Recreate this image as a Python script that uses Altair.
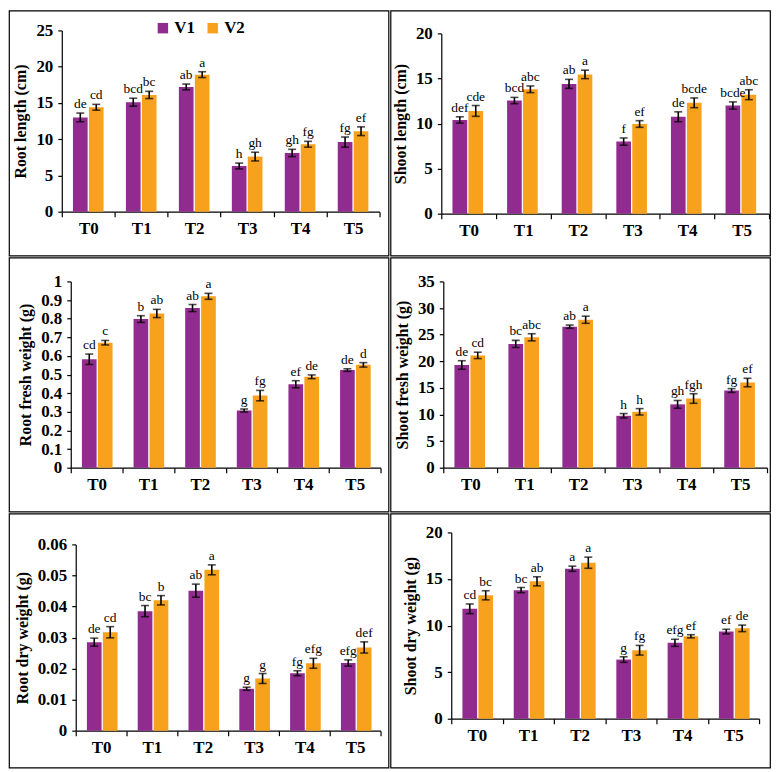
import altair as alt
import pandas as pd

treatments = ["T0", "T1", "T2", "T3", "T4", "T5"]
varieties = ["V1", "V2"]
colors = ["#922B90", "#F7A11C"]

# Root length (cm)
rl_v1 = [13.0, 15.1, 17.2, 6.3, 8.1, 9.6]
rl_v2 = [14.4, 16.1, 18.9, 7.6, 9.3, 11.1]
rl_e1 = [0.6, 0.55, 0.4, 0.4, 0.5, 0.7]
rl_e2 = [0.4, 0.5, 0.4, 0.6, 0.4, 0.6]
rl_l1 = ["de", "bcd", "ab", "h", "gh", "fg"]
rl_l2 = ["cd", "bc", "a", "gh", "fg", "ef"]

# Shoot length (cm)
sl_v1 = [10.4, 12.55, 14.4, 8.0, 10.75, 12.0]
sl_v2 = [11.4, 13.8, 15.45, 9.95, 12.3, 13.2]
sl_e1 = [0.35, 0.35, 0.5, 0.4, 0.55, 0.4]
sl_e2 = [0.6, 0.37, 0.47, 0.37, 0.54, 0.55]
sl_l1 = ["def", "bcd", "ab", "f", "de", "bcde"]
sl_l2 = ["cde", "abc", "a", "ef", "bcde", "abc"]

# Root fresh weight (g)
rfw_v1 = [0.582, 0.798, 0.857, 0.307, 0.448, 0.524]
rfw_v2 = [0.671, 0.828, 0.92, 0.387, 0.488, 0.552]
rfw_e1 = [0.028, 0.018, 0.019, 0.008, 0.019, 0.007]
rfw_e2 = [0.012, 0.022, 0.016, 0.028, 0.01, 0.012]
rfw_l1 = ["cd", "b", "ab", "g", "ef", "de"]
rfw_l2 = ["c", "ab", "a", "fg", "de", "d"]

# Shoot fresh weight (g)
sfw_v1 = [19.3, 23.25, 26.5, 9.75, 11.9, 14.5]
sfw_v2 = [21.1, 24.5, 27.8, 10.5, 13.0, 16.0]
sfw_e1 = [0.8, 0.67, 0.3, 0.42, 0.73, 0.36]
sfw_e2 = [0.6, 0.67, 0.67, 0.6, 0.9, 0.8]
sfw_l1 = ["de", "bc", "ab", "h", "gh", "fg"]
sfw_l2 = ["cd", "abc", "a", "h", "fgh", "ef"]

# Root dry weight (g)
rdw_v1 = [0.0285, 0.0385, 0.0451, 0.0135, 0.0185, 0.0218]
rdw_v2 = [0.0317, 0.042, 0.0518, 0.0168, 0.0217, 0.0268]
rdw_e1 = [0.0013, 0.0018, 0.0021, 0.0005, 0.0008, 0.001]
rdw_e2 = [0.0018, 0.0015, 0.0016, 0.0016, 0.0016, 0.0018]
rdw_l1 = ["de", "bc", "ab", "g", "fg", "efg"]
rdw_l2 = ["cd", "b", "a", "g", "efg", "def"]

# Shoot dry weight (g)
sdw_v1 = [11.8, 13.8, 16.1, 6.35, 8.15, 9.35]
sdw_v2 = [13.25, 14.75, 16.75, 7.35, 8.85, 9.7]
sdw_e1 = [0.52, 0.28, 0.28, 0.3, 0.38, 0.25]
sdw_e2 = [0.49, 0.49, 0.6, 0.52, 0.17, 0.35]
sdw_l1 = ["cd", "bc", "a", "g", "efg", "ef"]
sdw_l2 = ["bc", "ab", "a", "fg", "ef", "de"]

FONT = "Liberation Serif"
CELL_W = 381


def make_panel(title, v1, v2, e1, e2, l1, l2, ymax, step, geom, cell_h):
    rows = []
    for i, t in enumerate(treatments):
        for v, vals, errs, labs in (("V1", v1, e1, l1), ("V2", v2, e2, l2)):
            rows.append(dict(T=t, V=v, val=vals[i], lo=vals[i] - errs[i],
                             hi=vals[i] + errs[i], lab=labs[i]))
    df = pd.DataFrame(rows)
    left, pw, top, ph = geom
    bottom = cell_h - top - ph

    nt = int(round(ymax / step))
    tick_vals = [round(k * step, 6) for k in range(nt + 1)]

    x = alt.X("T:N", sort=treatments,
              scale=alt.Scale(paddingInner=0, paddingOuter=0, range=[left, left + pw]),
              axis=alt.Axis(title=None, labelAngle=0, tickBand="extent", offset=-bottom,
                            labelFont=FONT, labelFontSize=17, labelFontWeight="bold",
                            labelColor="black", tickColor="black", domainColor="black",
                            tickSize=5, labelPadding=4, domainWidth=1.2, tickWidth=1.2))
    xo = alt.XOffset("V:N", sort=varieties,
                     scale=alt.Scale(paddingInner=0.08, paddingOuter=0.7))
    yaxis = alt.Axis(values=tick_vals, format="~f", grid=False, title=title,
                     offset=-left,
                     labelFont=FONT, labelFontSize=17, labelFontWeight="bold",
                     labelColor="black", titleFont=FONT, titleFontSize=16,
                     titleFontWeight="bold", titleColor="black", titlePadding=7,
                     tickColor="black", domainColor="black", tickSize=4,
                     labelPadding=5, domainWidth=1.2, tickWidth=1.2)
    yscale = alt.Scale(domain=[0, ymax], nice=False, zero=True,
                       range=[top + ph, top])

    def Y(field):
        return alt.Y(field, type="quantitative", scale=yscale, axis=yaxis, title=title)

    base = alt.Chart(df)
    legend = alt.Legend(orient="none", legendX=146, legendY=9, direction="horizontal",
                        title=None, symbolType="square", symbolSize=110,
                        symbolStrokeWidth=0, labelFont=FONT, labelFontSize=17,
                        labelFontWeight="bold", labelColor="black", labelOffset=3,
                        columnPadding=9, padding=0)
    bars = base.mark_bar().encode(
        x=x, xOffset=xo, y=Y("val"),
        color=alt.Color("V:N", sort=varieties,
                        scale=alt.Scale(domain=varieties, range=colors),
                        legend=legend),
    )
    rules = base.mark_rule(color="black", strokeWidth=1.6).encode(
        x=x, xOffset=xo, y=Y("lo"), y2="hi:Q")
    cap_hi = base.mark_tick(color="black", size=8, thickness=1.6).encode(
        x=x, xOffset=xo, y=Y("hi"))
    cap_lo = base.mark_tick(color="black", size=8, thickness=1.6).encode(
        x=x, xOffset=xo, y=Y("lo"))
    text = base.mark_text(baseline="bottom", dy=-2, font=FONT, fontSize=13.5,
                          color="black").encode(
        x=x, xOffset=xo, y=Y("hi"), text="lab:N")
    return alt.layer(bars, rules, cap_hi, cap_lo, text).properties(
        width=CELL_W, height=cell_h)


H1, H2, H3 = 246, 255, 255
p1 = make_panel("Root length (cm)", rl_v1, rl_v2, rl_e1, rl_e2, rl_l1, rl_l2,
                25, 5, (53, 319, 20, 182), H1)
p2 = make_panel("Shoot length (cm)", sl_v1, sl_v2, sl_e1, sl_e2, sl_l1, sl_l2,
                20, 5, (51, 329, 23, 181), H1)
p3 = make_panel("Root fresh weight (g)", rfw_v1, rfw_v2, rfw_e1, rfw_e2, rfw_l1, rfw_l2,
                1, 0.1, (62, 311, 24, 187), H2)
p4 = make_panel("Shoot fresh weight (g)", sfw_v1, sfw_v2, sfw_e1, sfw_e2, sfw_l1, sfw_l2,
                35, 5, (53, 325, 24, 187), H2)
p5 = make_panel("Root dry weight (g)", rdw_v1, rdw_v2, rdw_e1, rdw_e2, rdw_l1, rdw_l2,
                0.06, 0.01, (67, 306, 31, 187), H3)
p6 = make_panel("Shoot dry weight (g)", sdw_v1, sdw_v2, sdw_e1, sdw_e2, sdw_l1, sdw_l2,
                20, 5, (61, 309, 19, 187), H3)

chart = alt.vconcat(
    alt.hconcat(p1, p2, spacing=0),
    alt.hconcat(p3, p4, spacing=0),
    alt.hconcat(p5, p6, spacing=0),
    spacing=0,
).properties(padding=0, background="white").configure_view(
    stroke="black", strokeWidth=1.2)

chart.save("out.html", embed_options={"renderer": "svg", "actions": False})
